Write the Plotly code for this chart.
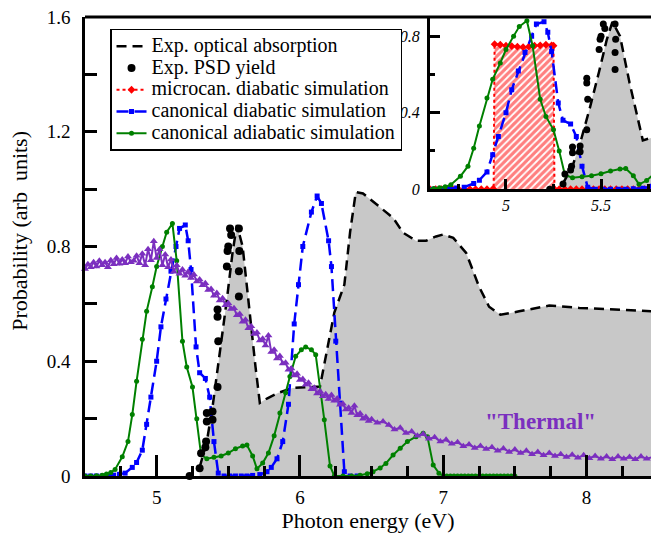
import plotly.graph_objects as go

# ---------------- data ----------------
absorp_x = [5.30, 5.35, 5.39, 5.44, 5.49, 5.53, 5.56, 5.60, 5.65, 5.69, 5.72, 5.77, 5.85, 5.95,
            6.05, 6.14, 6.24, 6.31, 6.35, 6.39, 6.44, 6.50, 6.56, 6.65, 6.72, 6.81, 6.88, 6.95,
            7.00, 7.07, 7.16, 7.25, 7.32, 7.40, 7.53, 7.74, 7.95, 8.18, 8.46]
absorp_y = [0.03, 0.12, 0.24, 0.42, 0.615, 0.78, 0.875, 0.80, 0.556, 0.38, 0.255, 0.27, 0.29, 0.307,
            0.31, 0.312, 0.57, 0.667, 0.85, 0.99, 0.985, 0.96, 0.935, 0.90, 0.848, 0.82, 0.82, 0.835,
            0.842, 0.83, 0.778, 0.66, 0.59, 0.562, 0.574, 0.594, 0.586, 0.58, 0.574]

psd_x = [5.23, 5.30, 5.31, 5.34, 5.345, 5.35, 5.35, 5.39, 5.39, 5.425, 5.43, 5.425, 5.425,
         5.49, 5.495, 5.50, 5.512, 5.52, 5.574, 5.577, 5.574, 5.574]
psd_y = [0.0, 0.027, 0.079, 0.10, 0.12, 0.19, 0.22, 0.196, 0.225, 0.31, 0.47, 0.555, 0.58,
         0.73, 0.784, 0.80, 0.863, 0.84, 0.863, 0.784, 0.714, 0.626]

micro_x = [4.60, 4.63, 4.66, 4.69, 4.72, 4.75, 4.78, 4.81, 4.84, 4.87, 4.90, 4.93, 4.935,
           4.94, 4.97, 5.00, 5.03, 5.06, 5.09, 5.12, 5.15, 5.18, 5.21, 5.24, 5.25,
           5.255, 5.28, 5.31, 5.34, 5.37, 5.40, 5.43, 5.46, 5.49, 5.52, 5.55, 5.58,
           5.61, 5.64, 5.67, 5.70, 5.73, 5.76]
micro_y = [0, 0, 0, 0, 0, 0, 0, 0, 0, 0, 0, 0, 0,
           0.758, 0.755, 0.75, 0.748, 0.745, 0.742, 0.745, 0.75, 0.752, 0.755, 0.752, 0.75,
           0, 0, 0, 0, 0, 0, 0, 0, 0, 0, 0, 0,
           0, 0, 0, 0, 0, 0]

candia_x = [4.50, 4.54, 4.58, 4.62, 4.66, 4.70, 4.74, 4.78, 4.83, 4.86, 4.90, 4.93, 4.96, 5.00,
            5.03, 5.065, 5.10, 5.135, 5.16, 5.20, 5.22, 5.24, 5.275, 5.30, 5.34, 5.37, 5.40,
            5.43, 5.47, 5.51, 5.55, 5.59, 5.63, 5.67, 5.72, 5.77, 5.80, 5.84, 5.88, 5.92, 5.96,
            5.99, 6.02, 6.08, 6.12, 6.15, 6.20, 6.22, 6.25, 6.28, 6.31, 6.35, 6.40]
candia_y = [0, 0, 0, 0, 0.001, 0.003, 0.006, 0.01, 0.03, 0.047, 0.09, 0.18, 0.275, 0.40,
            0.52, 0.617, 0.714, 0.80, 0.863, 0.875, 0.82, 0.72, 0.45, 0.36, 0.34, 0.275, 0.12,
            0.01, 0, 0, 0, 0, 0, 0.002, 0.005, 0.015, 0.03, 0.06, 0.12, 0.25, 0.53,
            0.667, 0.80, 0.92, 0.976, 0.95, 0.82, 0.73, 0.47, 0.254, 0.015, 0, 0]

canadia_x = [4.50, 4.54, 4.58, 4.62, 4.65, 4.68, 4.71, 4.76, 4.80, 4.83, 4.86, 4.90, 4.93, 4.97,
             5.00, 5.04, 5.07, 5.11, 5.14, 5.18, 5.21, 5.25, 5.28, 5.31, 5.35, 5.40, 5.45,
             5.50, 5.55, 5.60, 5.63, 5.67, 5.70, 5.74, 5.78, 5.82, 5.86, 5.90, 5.93, 5.97,
             6.01, 6.04, 6.08, 6.11, 6.17, 6.21, 6.24, 6.30, 6.36, 6.42, 6.47, 6.51, 6.56,
             6.60, 6.65, 6.70, 6.75, 6.81, 6.86, 6.89, 6.93, 6.97,
             7.000, 7.025, 7.050, 7.075, 7.100, 7.125, 7.150, 7.175, 7.200, 7.225, 7.250,
             7.275, 7.300, 7.325, 7.350, 7.375, 7.400, 7.425, 7.450, 7.475, 7.500]
canadia_y = [0, 0, 0.001, 0.003, 0.007, 0.012, 0.023, 0.067, 0.12, 0.214, 0.33, 0.477, 0.574, 0.66,
             0.73, 0.80, 0.85, 0.88, 0.75, 0.47, 0.38, 0.31, 0.20, 0.074, 0.06, 0.065, 0.07,
             0.08, 0.095, 0.105, 0.108, 0.07, 0.025, 0.045, 0.08, 0.14, 0.22, 0.29, 0.347, 0.417,
             0.44, 0.45, 0.44, 0.423, 0.196, 0.035, 0, 0, 0, 0.003, 0.008, 0.015, 0.028,
             0.044, 0.073, 0.097, 0.12, 0.137, 0.149, 0.137, 0.038, 0.01,
             0, 0, 0, 0, 0, 0, 0, 0, 0, 0, 0,
             0, 0, 0, 0, 0, 0, 0, 0, 0, 0]

thermal_x = [4.50, 4.52, 4.54, 4.56, 4.58, 4.60, 4.62, 4.64, 4.66, 4.68, 4.70, 4.72, 4.74, 4.76,
             4.78, 4.80, 4.82, 4.84, 4.86, 4.88, 4.90, 4.92, 4.94, 4.96, 4.98, 5.00, 5.02, 5.04,
             5.06, 5.08, 5.10, 5.12, 5.14, 5.16, 5.18, 5.20, 5.22, 5.24, 5.26, 5.28, 5.30, 5.32,
             5.34, 5.36, 5.38, 5.40, 5.42, 5.44, 5.46, 5.48, 5.50, 5.52, 5.54, 5.56, 5.58, 5.60,
             5.62, 5.64, 5.66, 5.68, 5.70, 5.72, 5.74, 5.76, 5.78, 5.80, 5.82, 5.84, 5.86, 5.88,
             5.90, 5.92, 5.94, 5.96, 5.98, 6.00, 6.02, 6.04, 6.06, 6.08, 6.10, 6.12, 6.14, 6.16,
             6.18, 6.20, 6.22, 6.24, 6.26, 6.28, 6.30, 6.32, 6.34, 6.36, 6.38, 6.40, 6.42, 6.44,
             6.46, 6.48, 6.50, 6.54, 6.58, 6.62, 6.66, 6.70, 6.74, 6.78, 6.82, 6.86, 6.90, 6.94,
             6.98, 7.02, 7.06, 7.10, 7.14, 7.18, 7.22, 7.26, 7.30, 7.34, 7.38, 7.42, 7.46, 7.50,
             7.54, 7.58, 7.62, 7.66, 7.70, 7.74, 7.78, 7.82, 7.86, 7.90, 7.94, 7.98, 8.02, 8.06,
             8.10, 8.14, 8.18, 8.22, 8.26, 8.30, 8.34, 8.38, 8.42, 8.46]
thermal_y = [0.722, 0.738, 0.728, 0.745, 0.73, 0.75, 0.735, 0.745, 0.728, 0.752, 0.738, 0.76, 0.74, 0.755,
             0.742, 0.765, 0.745, 0.75, 0.768, 0.742, 0.775, 0.735, 0.79, 0.752, 0.818, 0.76, 0.79, 0.735,
             0.772, 0.728, 0.755, 0.712, 0.735, 0.705, 0.72, 0.698, 0.712, 0.69, 0.702, 0.678, 0.685, 0.665,
             0.672, 0.648, 0.652, 0.628, 0.638, 0.612, 0.62, 0.595, 0.602, 0.582, 0.585, 0.56, 0.565, 0.538,
             0.545, 0.515, 0.522, 0.495, 0.5, 0.472, 0.478, 0.455, 0.49, 0.432, 0.44, 0.41, 0.418, 0.392,
             0.395, 0.37, 0.375, 0.35, 0.356, 0.335, 0.338, 0.318, 0.325, 0.302, 0.308, 0.288, 0.295, 0.278,
             0.285, 0.268, 0.282, 0.262, 0.27, 0.248, 0.252, 0.232, 0.238, 0.22, 0.245, 0.212, 0.218, 0.2,
             0.206, 0.192, 0.198, 0.186, 0.19, 0.178, 0.162, 0.168, 0.15, 0.155, 0.14, 0.146, 0.13, 0.135,
             0.12, 0.126, 0.112, 0.118, 0.104, 0.11, 0.098, 0.105, 0.094, 0.1, 0.088, 0.096, 0.084, 0.092,
             0.08, 0.088, 0.076, 0.084, 0.072, 0.08, 0.07, 0.076, 0.066, 0.074, 0.064, 0.072, 0.062, 0.07,
             0.06, 0.068, 0.058, 0.068, 0.06, 0.066, 0.058, 0.068, 0.06, 0.066]

x_major = [5, 6, 7, 8]
x_major_text = ["5", "6", "7", "8"]
x_minor = [4.75, 5.25, 5.5, 5.75, 6.25, 6.5, 6.75, 7.25, 7.5, 7.75, 8.25]
y_ticks = [0, 0.2, 0.4, 0.6, 0.8, 1.0, 1.2, 1.4, 1.6]
y_ticktext = ["0", "", "0.4", "", "0.8", "", "1.2", "", "1.6"]

in_x_major = [5, 5.5]
in_x_major_text = ["5", "5.5"]
in_x_minor = [4.75, 5.25, 5.75]
in_y_major = [0, 0.4, 0.8]
in_y_major_text = ["0", "0.4", "0.8"]
in_y_minor = [0.2, 0.6]

names = ["Exp. optical absorption", "Exp. PSD yield", "microcan. diabatic simulation",
         "canonical diabatic simulation", "canonical adiabatic simulation"]
y_title = "Probability (arb\u00a0 units)"
x_title = "Photon energy (eV)"
thermal_label = "\"Thermal\""

# ---------------- style ----------------
SERIF = "Liberation Serif, Times New Roman, serif"
GRAY = "#c8c8c8"
BLUE = "#0000ff"
GREEN = "#008000"
RED = "#ff0000"
PURPLE = "#7b2fbf"

def lg(t):
    return '<span style="font-size:20px">' + t + '</span>'

fig = go.Figure()

# ---- main panel ----
fig.add_trace(go.Scatter(x=absorp_x, y=absorp_y, mode="lines", line=dict(width=0),
                         fill="tozeroy", fillcolor=GRAY, showlegend=False, hoverinfo="skip",
                         xaxis="x", yaxis="y"))
fig.add_trace(go.Scatter(x=absorp_x, y=absorp_y, mode="lines", name=lg(names[0]), legendrank=1,
                         line=dict(color="black", width=2.5, dash="10px,6px"),
                         cliponaxis=False, xaxis="x", yaxis="y"))
fig.add_trace(go.Scatter(x=candia_x, y=candia_y, mode="lines+markers", name=lg(names[3]), legendrank=4,
                         line=dict(color=BLUE, width=2.5, dash="12px,6px"),
                         marker=dict(symbol="square", size=5, color=BLUE),
                         cliponaxis=False, xaxis="x", yaxis="y"))
fig.add_trace(go.Scatter(x=canadia_x, y=canadia_y, mode="lines+markers", name=lg(names[4]), legendrank=5,
                         line=dict(color=GREEN, width=2),
                         marker=dict(symbol="circle", size=5, color=GREEN),
                         cliponaxis=False, xaxis="x", yaxis="y"))
fig.add_trace(go.Scatter(x=thermal_x, y=thermal_y, mode="lines+markers", showlegend=False,
                         line=dict(color=PURPLE, width=2),
                         marker=dict(symbol="triangle-up", size=7, color=PURPLE),
                         cliponaxis=False, xaxis="x", yaxis="y"))
fig.add_trace(go.Scatter(x=psd_x, y=psd_y, mode="markers", name=lg(names[1]), legendrank=2,
                         marker=dict(symbol="circle", size=8, color="black"),
                         cliponaxis=False, xaxis="x", yaxis="y"))

# ---- inset panel ----
fig.add_trace(go.Scatter(x=absorp_x, y=absorp_y, mode="lines", line=dict(width=0),
                         fill="tozeroy", fillcolor=GRAY, showlegend=False, hoverinfo="skip",
                         xaxis="x2", yaxis="y2"))
fig.add_trace(go.Scatter(x=micro_x, y=micro_y, mode="lines", line=dict(width=0),
                         fill="tozeroy",
                         fillpattern=dict(shape="/", fgcolor=RED, bgcolor="white", size=5, solidity=0.65),
                         showlegend=False, hoverinfo="skip", xaxis="x2", yaxis="y2"))
fig.add_trace(go.Scatter(x=absorp_x, y=absorp_y, mode="lines", showlegend=False,
                         line=dict(color="black", width=2.5, dash="10px,6px"),
                         xaxis="x2", yaxis="y2"))
fig.add_trace(go.Scatter(x=micro_x, y=micro_y, mode="lines+markers", name=lg(names[2]), legendrank=3,
                         line=dict(color=RED, width=2, dash="dot"),
                         marker=dict(symbol="diamond", size=6, color=RED),
                         xaxis="x2", yaxis="y2"))
fig.add_trace(go.Scatter(x=candia_x, y=candia_y, mode="lines+markers", showlegend=False,
                         line=dict(color=BLUE, width=2.5, dash="12px,6px"),
                         marker=dict(symbol="square", size=5, color=BLUE),
                         xaxis="x2", yaxis="y2"))
fig.add_trace(go.Scatter(x=canadia_x, y=canadia_y, mode="lines+markers", showlegend=False,
                         line=dict(color=GREEN, width=2),
                         marker=dict(symbol="circle", size=5, color=GREEN),
                         xaxis="x2", yaxis="y2"))
fig.add_trace(go.Scatter(x=psd_x, y=psd_y, mode="markers", showlegend=False,
                         marker=dict(symbol="circle", size=7, color="black"),
                         xaxis="x2", yaxis="y2"))

axis_font = dict(family=SERIF, size=19, color="black")
inset_font = dict(family=SERIF, size=16, color="black", style="italic")

fig.update_layout(
    width=651, height=533,
    margin=dict(l=85, r=0, t=17, b=57),
    paper_bgcolor="white", plot_bgcolor="white",
    font=dict(family=SERIF, color="black"),
    xaxis=dict(domain=[0, 1], range=[4.5, 8.45], showgrid=False, zeroline=False,
               showline=True, linecolor="black", linewidth=2.5,
               ticks="inside", tickvals=x_major, ticktext=x_major_text, ticklen=21, tickwidth=2.5,
               tickcolor="black", tickfont=axis_font, ticklabelstandoff=2,
               minor=dict(tickvals=x_minor, ticks="inside", ticklen=10, tickwidth=2.5, tickcolor="black"),
               title=dict(text=x_title, font=dict(family=SERIF, size=22), standoff=3)),
    yaxis=dict(domain=[0, 1], range=[0, 1.6], showgrid=False, zeroline=False,
               showline=True, linecolor="black", linewidth=2.5,
               ticks="inside", tickvals=y_ticks, ticktext=y_ticktext, ticklen=12, tickwidth=2.5,
               tickcolor="black", tickfont=axis_font, ticklabelstandoff=8),
    xaxis2=dict(domain=[0.6095, 1], range=[4.6, 5.763], anchor="y2", showgrid=False, zeroline=False,
                showline=True, linecolor="black", linewidth=3,
                ticks="inside", tickvals=in_x_major, ticktext=in_x_major_text, ticklen=10, tickwidth=2.5,
                tickcolor="black", tickfont=inset_font, ticklabelstandoff=0,
                minor=dict(tickvals=in_x_minor, ticks="inside", ticklen=5, tickwidth=2.5, tickcolor="black")),
    yaxis2=dict(domain=[0.625, 1], range=[0, 0.9], anchor="x2", showgrid=False, zeroline=False,
                showline=True, linecolor="black", linewidth=3,
                ticks="inside", tickvals=in_y_major, ticktext=in_y_major_text, ticklen=10, tickwidth=2.5,
                tickcolor="black", tickfont=inset_font, ticklabelstandoff=4,
                minor=dict(tickvals=in_y_minor, ticks="inside", ticklen=5, tickwidth=2.5, tickcolor="black")),
    legend=dict(x=0.0442, y=0.974, xanchor="left", yanchor="top",
                bgcolor="white", bordercolor="black", borderwidth=1.5,
                font=dict(family=SERIF, size=14.4, color="black"),
                tracegroupgap=0),
    showlegend=True,
)

# top frame line and inset background
fig.add_shape(type="rect", xref="x2 domain", yref="y2 domain", x0=0, x1=1, y0=0, y1=1,
              fillcolor="white", line=dict(width=0), layer="below")
fig.add_shape(type="line", xref="paper", yref="paper", x0=0, x1=1, y0=1, y1=1,
              line=dict(color="black", width=3))

# y-axis title (placed slightly above centre, as in the original)
fig.add_annotation(x=-0.115, y=0.534, xref="paper", yref="paper", text=y_title, textangle=-90,
                   showarrow=False, xanchor="center", yanchor="middle",
                   font=dict(family=SERIF, size=22, color="black"))

fig.add_annotation(x=7.68, y=0.19, xref="x", yref="y", text=thermal_label, showarrow=False,
                   font=dict(family=SERIF, size=23, color=PURPLE, weight="bold"))

fig.write_html("out.html")
